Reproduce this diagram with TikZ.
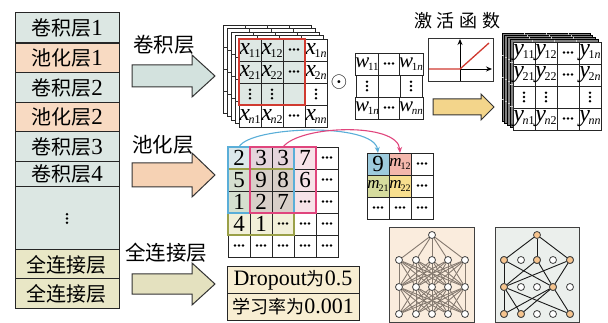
\documentclass[tikz,border=0pt]{standalone}
\usepackage{fontspec}
\usepackage{graphicx}
\setmainfont{Liberation Serif}
\newfontfamily\cjk{Noto Sans CJK SC}
\usetikzlibrary{arrows.meta}
\definecolor{convc}{HTML}{DCE7E3}
\definecolor{poolc}{HTML}{F8DAC2}
\definecolor{fcc}{HTML}{E9E7C6}
\definecolor{convar}{HTML}{D3E2DE}
\definecolor{poolar}{HTML}{F6D2B4}
\definecolor{fcar}{HTML}{E4E1BF}
\definecolor{yelar}{HTML}{F3D58B}
\definecolor{xfill}{HTML}{DEE8E4}
\definecolor{redc}{HTML}{D03A30}
\definecolor{bluec}{HTML}{5AAED8}
\definecolor{pinkc}{HTML}{E0457D}
\definecolor{pb}{HTML}{DCE8EB}
\definecolor{pm}{HTML}{E5D5DC}
\definecolor{pp}{HTML}{F7E2E8}
\definecolor{pg}{HTML}{D5E0CF}
\definecolor{pc}{HTML}{D8CFC8}
\definecolor{py}{HTML}{F2F0D9}
\definecolor{olivec}{HTML}{9AA048}
\definecolor{qa}{HTML}{9DCBDD}
\definecolor{qb}{HTML}{F3B7AC}
\definecolor{qc}{HTML}{D6DC9E}
\definecolor{qd}{HTML}{F8DF8F}
\definecolor{nnA}{HTML}{FAECDD}
\definecolor{nnB}{HTML}{EBEFEC}
\definecolor{edgeA}{HTML}{857A70}
\definecolor{orn}{HTML}{F6C48E}
\definecolor{dropc}{HTML}{F8EED2}
\newcommand\hd{\tikz[baseline=-2.5pt,x=1pt,y=1pt]{\foreach \i in {0,1,2}\fill (\i*4,0) circle (1.35);}}
\newcommand\vd{\tikz[baseline=-2.5pt,x=1pt,y=1pt]{\foreach \i in {0,1,2}\fill (0,\i*4.2-4.2) circle (1.35);}}
\newcommand\sv[4]{{\fontsize{#1}{#1}\selectfont\textit{#2}}\kern-1.2pt\raisebox{-3pt}{\fontsize{#4}{#4}\selectfont #3}}
\newcommand\lt[2]{{\cjk\fontsize{20}{20}\selectfont #1}{\fontsize{23}{23}\selectfont #2}}
\begin{document}
\begin{tikzpicture}[x=1pt,y=-1pt,
  cell/.style={draw=black!85, line width=0.8pt, minimum size=22pt, inner sep=0pt, outer sep=0pt, font=\fontsize{23}{23}\selectfont},
  lrow/.style={draw=black!85, line width=1pt, minimum width=104pt, inner sep=0pt, outer sep=0pt},
  barrow/.style={draw=black!80, line width=1pt, line join=miter},
  neuron/.style={circle, draw=black!75, line width=0.8pt, fill=white, minimum size=7pt, inner sep=0pt},
  edA/.style={edgeA, line width=0.9pt},
  edB/.style={black!90, line width=0.9pt},
  lab/.style={inner sep=0pt}]
\useasboundingbox (0,0) rectangle (608,323);

% left column
\node[lrow, fill=convc, minimum height=30pt] (L1) at (67,28) {\lt{卷积层}{1}};
\node[lrow, fill=poolc, minimum height=29.5pt] (L2) at (67,58) {\lt{池化层}{1}};
\node[lrow, fill=convc, minimum height=29.5pt] (L3) at (67,87.5) {\lt{卷积层}{2}};
\node[lrow, fill=poolc, minimum height=29.5pt] (L4) at (67,117) {\lt{池化层}{2}};
\node[lrow, fill=convc, minimum height=29.5pt] (L5) at (67,146.5) {\lt{卷积层}{3}};
\node[lrow, fill=convc, minimum height=25.5pt] (L6) at (67,174) {\lt{卷积层}{4}};
\node[lrow, fill=convc, minimum height=63pt] (L7) at (67,218.5) {\vd};
\node[lrow, fill=fcc, minimum height=29pt] (L8) at (67,264.5) {\lt{全连接层}{}};
\node[lrow, fill=fcc, minimum height=29pt] (L9) at (67,293.5) {\lt{全连接层}{}};

% block arrows and labels
\draw[barrow, fill=convar] (132,65) -- (192,65) -- (192,55) -- (215,76) -- (192,97) -- (192,87) -- (132,87) -- cycle;
\draw[barrow, fill=poolar] (132,163) -- (192,163) -- (192,153) -- (215,175) -- (192,197) -- (192,187) -- (132,187) -- cycle;
\draw[barrow, fill=fcar] (132,274) -- (192,274) -- (192,263) -- (215,284) -- (192,305) -- (192,294) -- (132,294) -- cycle;
\draw[barrow, fill=yelar] (433,99) -- (481,99) -- (481,94) -- (494,107) -- (481,120) -- (481,115) -- (433,115) -- cycle;
\node[lab, font=\cjk\fontsize{20.5}{20.5}\selectfont] (tconv) at (164,45) {卷积层};
\node[lab, font=\cjk\fontsize{20.5}{20.5}\selectfont] (tpool) at (163,145) {池化层};
\node[lab, font=\cjk\fontsize{20.5}{20.5}\selectfont] (tfc) at (166,253) {全连接层};
\node[lab, font=\cjk\fontsize{18}{18}\selectfont] (tact) at (457.5,21) {激\hspace{5pt}活\hspace{5pt}函\hspace{5pt}数};

% X stack
\foreach \k in {4,3,2,1} {
  \begin{scope}[shift={(-4*\k,-3.5*\k)}]
    \draw[fill=white, draw=black!85, line width=0.7pt] (239,39) rectangle (327,127);
    \foreach \i in {1,2,3} {
      \draw[black!80, line width=0.6pt] (239+22*\i,39) -- (239+22*\i,127);
      \draw[black!80, line width=0.6pt] (239,39+22*\i) -- (327,39+22*\i);
    }
  \end{scope}
}
\node[cell, fill=xfill] (X11) at (250,50) {\sv{24}{x}{11}{12}};
\node[cell, fill=xfill] (X12) at (272,50) {\sv{24}{x}{12}{12}};
\node[cell, fill=xfill] (X13) at (294,50) {\hd};
\node[cell, fill=white] (X14) at (316,50) {\sv{24}{x}{1\textit{n}}{12}};
\node[cell, fill=xfill] (X21) at (250,72) {\sv{24}{x}{21}{12}};
\node[cell, fill=xfill] (X22) at (272,72) {\sv{24}{x}{22}{12}};
\node[cell, fill=xfill] (X23) at (294,72) {\hd};
\node[cell, fill=white] (X24) at (316,72) {\sv{24}{x}{2\textit{n}}{12}};
\node[cell, fill=xfill] (X31) at (250,94) {\vd};
\node[cell, fill=xfill] (X32) at (272,94) {\vd};
\node[cell, fill=xfill] (X33) at (294,94) {};
\node[cell, fill=white] (X34) at (316,94) {\vd};
\node[cell, fill=white] (X41) at (250,116) {\sv{24}{x}{\textit{n}1}{12}};
\node[cell, fill=white] (X42) at (272,116) {\sv{24}{x}{\textit{n}2}{12}};
\node[cell, fill=white] (X43) at (294,116) {\hd};
\node[cell, fill=white] (X44) at (316,116) {\sv{24}{x}{\textit{nn}}{12}};
\draw[redc, line width=1.3pt] (X11.north west) rectangle (X33.south east);

\node[lab, font=\fontsize{14}{14}\selectfont] (odot) at (339,82) {\scalebox{1.5}{$\odot$}};

% W matrix
\node[cell, fill=white] (W11) at (367,64) {\sv{21}{w}{11}{11}};
\node[cell, fill=white] (W12) at (389,64) {\hd};
\node[cell, fill=white] (W13) at (411,64) {\sv{21}{w}{1\textit{n}}{11}};
\node[cell, fill=white] (W21) at (367,86) {\vd};
\node[cell, fill=white] (W22) at (389,86) {};
\node[cell, fill=white] (W23) at (411,86) {\vd};
\node[cell, fill=white] (W31) at (367,108) {\sv{21}{w}{1\textit{n}}{11}};
\node[cell, fill=white] (W32) at (389,108) {\hd};
\node[cell, fill=white] (W33) at (411,108) {\sv{21}{w}{\textit{nn}}{11}};

% activation function
\node[draw=black!80, line width=0.8pt, fill=white, minimum width=65pt, minimum height=43pt, inner sep=0pt] (act) at (460.5,59.5) {};
\coordinate (ab) at (460,81);
\coordinate (at) at (460,39);
\coordinate (ao) at (460,69);
\coordinate (ar) at (492,69);
\coordinate (al) at (429,69);
\coordinate (ae) at (489,43);
\draw[line width=0.9pt, -{Stealth[length=6pt,width=5pt]}] (ab) -- (at);
\draw[line width=0.9pt, -{Stealth[length=6pt,width=5pt]}] (ao) -- (ar);
\draw[redc, line width=1.3pt] (al) -- (ao) -- (ae);

% Y stack
\foreach \k in {4,3,2,1} {
  \begin{scope}[shift={(-2.75*\k,-2.25*\k)}]
    \draw[fill=black!50, draw=black, line width=0.7pt] (513,42) rectangle (601,130);
    \foreach \i in {1,2,3} {
      \draw[black!20, line width=0.4pt] (513+22*\i,42) -- (513+22*\i,130);
      \draw[black!20, line width=0.4pt] (513,42+22*\i) -- (601,42+22*\i);
    }
  \end{scope}
}
\node[cell, fill=white] (Y11) at (524,53) {\sv{24}{y}{11}{12}};
\node[cell, fill=white] (Y12) at (546,53) {\sv{24}{y}{12}{12}};
\node[cell, fill=white] (Y13) at (568,53) {\hd};
\node[cell, fill=white] (Y14) at (590,53) {\sv{24}{y}{1\textit{n}}{12}};
\node[cell, fill=white] (Y21) at (524,75) {\sv{24}{y}{21}{12}};
\node[cell, fill=white] (Y22) at (546,75) {\sv{24}{y}{22}{12}};
\node[cell, fill=white] (Y23) at (568,75) {\hd};
\node[cell, fill=white] (Y24) at (590,75) {\sv{24}{y}{2\textit{n}}{12}};
\node[cell, fill=white] (Y31) at (524,97) {\vd};
\node[cell, fill=white] (Y32) at (546,97) {\vd};
\node[cell, fill=white] (Y33) at (568,97) {};
\node[cell, fill=white] (Y34) at (590,97) {\vd};
\node[cell, fill=white] (Y41) at (524,119) {\sv{24}{y}{\textit{n}1}{12}};
\node[cell, fill=white] (Y42) at (546,119) {\sv{24}{y}{\textit{n}2}{12}};
\node[cell, fill=white] (Y43) at (568,119) {\hd};
\node[cell, fill=white] (Y44) at (590,119) {\sv{24}{y}{\textit{nn}}{12}};

% pooling input grid
\node[cell, fill=pb] (P11) at (239,158) {2};
\node[cell, fill=pm] (P12) at (261,158) {3};
\node[cell, fill=pm] (P13) at (283,158) {3};
\node[cell, fill=pp] (P14) at (305,158) {7};
\node[cell, fill=white] (P15) at (327,158) {\hd};
\node[cell, fill=pg] (P21) at (239,180) {5};
\node[cell, fill=pc] (P22) at (261,180) {9};
\node[cell, fill=pc] (P23) at (283,180) {8};
\node[cell, fill=pp] (P24) at (305,180) {6};
\node[cell, fill=white] (P25) at (327,180) {\hd};
\node[cell, fill=pg] (P31) at (239,202) {1};
\node[cell, fill=pc] (P32) at (261,202) {2};
\node[cell, fill=pc] (P33) at (283,202) {7};
\node[cell, fill=pp] (P34) at (305,202) {\hd};
\node[cell, fill=white] (P35) at (327,202) {\hd};
\node[cell, fill=py] (P41) at (239,224) {4};
\node[cell, fill=py] (P42) at (261,224) {1};
\node[cell, fill=py] (P43) at (283,224) {\hd};
\node[cell, fill=white] (P44) at (305,224) {\hd};
\node[cell, fill=white] (P45) at (327,224) {\hd};
\node[cell, fill=white] (P51) at (239,246) {\hd};
\node[cell, fill=white] (P52) at (261,246) {\hd};
\node[cell, fill=white] (P53) at (283,246) {\hd};
\node[cell, fill=white] (P54) at (305,246) {\hd};
\node[cell, fill=white] (P55) at (327,246) {\hd};
\draw[olivec, line width=1.2pt] (P21.north west) rectangle (P43.south east);
\draw[bluec, line width=1.2pt] (P11.north west) rectangle (P33.south east);
\draw[pinkc, line width=1.2pt] (P12.north west) rectangle (P34.south east);

% pooling output grid
\node[cell, fill=qa] (Q11) at (378,164) {9};
\node[cell, fill=qb] (Q12) at (400,164) {\sv{17}{m}{12}{10}};
\node[cell, fill=white] (Q13) at (422,164) {\hd};
\node[cell, fill=qc] (Q21) at (378,186) {\sv{17}{m}{21}{10}};
\node[cell, fill=qd] (Q22) at (400,186) {\sv{17}{m}{22}{10}};
\node[cell, fill=white] (Q23) at (422,186) {\hd};
\node[cell, fill=white] (Q31) at (378,208) {\hd};
\node[cell, fill=white] (Q32) at (400,208) {\hd};
\node[cell, fill=white] (Q33) at (422,208) {\hd};

\draw[bluec, line width=1.1pt, -{Stealth[length=6pt,width=5pt]}] (P11.north) .. controls (250,126) and (374,122) .. (Q11.north);
\draw[pinkc, line width=1.1pt, -{Stealth[length=6pt,width=5pt]}] (P13.north) .. controls (300,125) and (398,122) .. (Q12.north);

% dropout box
\node[draw=black!85, line width=1pt, fill=dropc, minimum width=132pt, minimum height=26pt, inner sep=0pt] (D1) at (293,280) {{\fontsize{22}{22}\selectfont Dropout}{\cjk\fontsize{18}{18}\selectfont 为}{\fontsize{22}{22}\selectfont 0.5}};
\node[draw=black!85, line width=1pt, fill=dropc, minimum width=132pt, minimum height=27pt, inner sep=0pt] (D2) at (293,306.5) {{\cjk\fontsize{18}{18}\selectfont 学习率为}{\fontsize{22}{22}\selectfont 0.001}};

% neural net A
\node[draw=black!75, line width=1pt, fill=nnA, minimum width=85pt, minimum height=94pt, inner sep=0pt] (NA) at (431.5,275) {};
\node[neuron] (A0) at (432,235) {};
\foreach \r/\yy in {1/260,2/287,3/314} {
  \foreach \c/\xx in {1/399,2/416,3/432,4/448,5/465} {
    \node[neuron] (A\r\c) at (\xx,\yy) {};
  }
}
\foreach \c in {1,...,5} {\draw[edA] (A0) -- (A1\c);}
\foreach \a in {1,...,5} {
  \foreach \b in {1,...,5} {
    \draw[edA] (A1\a) -- (A2\b);
    \draw[edA] (A2\a) -- (A3\b);
  }
}

% neural net B
\node[draw=black!75, line width=1pt, fill=nnB, minimum width=84pt, minimum height=94pt, inner sep=0pt] (NB) at (537,275) {};
\node[neuron, fill=orn] (B0) at (537,235) {};
\foreach \r/\yy in {1/260,2/287,3/314} {
  \foreach \c/\xx in {1/504,2/521,3/537,4/553,5/570} {
    \node[neuron] (B\r\c) at (\xx,\yy) {};
  }
}
\foreach \n in {B11,B13,B15,B21,B24,B31,B32,B35} {\node[neuron, fill=orn] at (\n) {};}
\foreach \c in {1,3,5} {\draw[edB] (B0) -- (B1\c);}
\foreach \a in {1,3,5} {\foreach \b in {1,4} {\draw[edB] (B1\a) -- (B2\b);}}
\foreach \a in {1,4} {\foreach \b in {1,2,5} {\draw[edB] (B2\a) -- (B3\b);}}
\end{tikzpicture}
\end{document}
